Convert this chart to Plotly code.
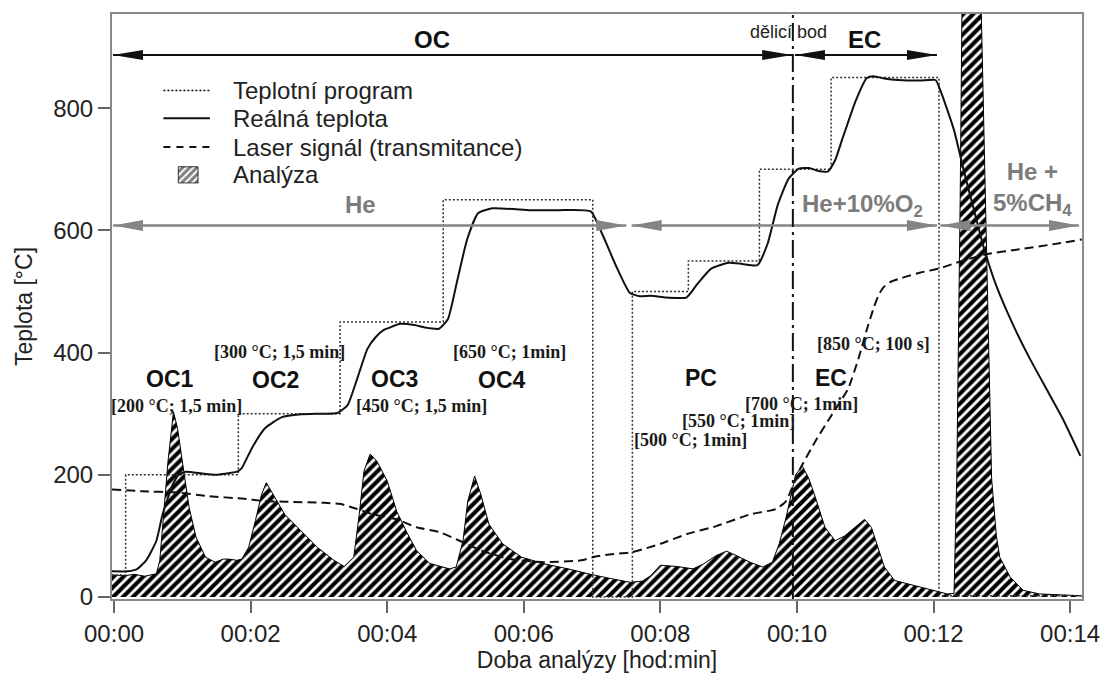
import plotly.graph_objects as go

# ---------------------------------------------------------------
# Data (time in minutes, values in °C scale)
# ---------------------------------------------------------------
x_tick_vals = [0, 2, 4, 6, 8, 10, 12, 14]
x_tick_text = ["00:00", "00:02", "00:04", "00:06", "00:08", "00:10", "00:12", "00:14"]
y_tick_vals = [0, 200, 400, 600, 800]

# Temperature program (set-point steps)
program_time = [-0.03, 0.17, 1.82, 3.31, 4.82, 7.01, 7.59, 8.41, 9.45, 10.50, 12.08, 14.17]
program_temp = [36, 200, 300, 450, 650, 0, 500, 550, 700, 850, 2, 2]

# Measured oven temperature
real_time = [-0.03, 0.20, 0.33, 0.47, 0.62, 0.71, 0.86, 0.95, 1.05, 1.29, 1.49, 1.70, 1.80,
             1.87, 2.02, 2.21, 2.45, 2.74, 3.00, 3.27, 3.42, 3.56, 3.71, 3.83, 3.95, 4.04,
             4.19, 4.40, 4.55, 4.76, 4.89, 5.02, 5.17, 5.33, 5.54, 6.10, 6.50, 6.98, 7.14,
             7.35, 7.55, 7.70, 7.86, 8.10, 8.38, 8.54, 8.74, 9.00, 9.20, 9.42, 9.57, 9.72,
             9.88, 10.03, 10.18, 10.29, 10.45, 10.56, 10.66, 10.86, 11.02, 11.12, 11.30,
             11.48, 11.80, 12.03, 12.10, 12.30, 12.44, 12.59, 12.73, 12.92, 13.17, 13.41,
             13.65, 13.89, 14.15]
real_temp = [42, 42, 45, 60, 92, 135, 184, 200, 205, 202, 200, 203, 205,
             211, 244, 276, 294, 299, 300, 301, 314, 357, 406, 425, 437, 441,
             447, 445, 441, 439, 455, 515, 585, 628, 636, 633, 633, 631, 596,
             542, 498, 492, 493, 490, 490, 512, 537, 547, 545, 543, 578, 642,
             685, 701, 702, 698, 696, 715, 748, 812, 849, 852, 848,
             846, 845, 846, 829, 764, 699, 634, 574, 509, 444, 390,
             341, 292, 231]

# Laser signal (transmittance)
laser_time = [-0.03, 0.42, 0.91, 1.39, 1.87, 2.21, 2.50, 3.08, 3.32, 3.56, 3.80, 4.14, 4.43,
              4.77, 5.06, 5.40, 5.80, 6.30, 6.84, 7.04, 7.28, 7.57, 7.80, 8.00, 8.39, 8.82,
              9.31, 9.69, 9.84, 10.03, 10.27, 10.51, 10.75, 10.90, 11.04, 11.13, 11.20,
              11.27, 11.36, 11.48, 11.62, 11.81, 12.10, 12.39, 12.78, 13.26, 13.74, 14.17]
laser_signal = [176, 173, 171, 165, 161, 157, 156, 154, 152, 144, 135, 127, 114,
                106, 92, 75, 62, 57, 60, 66, 70, 73, 80, 87, 103, 116,
                135, 144, 157, 206, 255, 298, 341, 390, 444, 475, 495,
                507, 515, 520, 525, 531, 538, 549, 561, 569, 577, 585]

# Analyser response (CO2 signal)
analysis_time = [-0.03, 0.15, 0.30, 0.45, 0.62, 0.67, 0.71, 0.79, 0.87, 0.93, 1.00, 1.10, 1.20,
                 1.34, 1.48, 1.60, 1.68, 1.80, 1.87, 1.97, 2.07, 2.16, 2.23, 2.33, 2.50, 2.74,
                 2.98, 3.22, 3.37, 3.51, 3.59, 3.66, 3.75, 3.85, 4.00, 4.14, 4.29, 4.43, 4.62,
                 4.91, 5.01, 5.11, 5.18, 5.28, 5.37, 5.49, 5.69, 5.97, 6.31, 6.65, 6.94, 7.28,
                 7.56, 7.74, 7.86, 8.00, 8.24, 8.48, 8.63, 8.82, 8.97, 9.11, 9.31, 9.50, 9.64,
                 9.74, 9.84, 9.98, 10.08, 10.17, 10.27, 10.41, 10.56, 10.70, 10.90, 10.99,
                 11.09, 11.19, 11.28, 11.43, 11.72, 12.00, 12.20, 12.30, 12.34, 12.39, 12.50,
                 12.70, 12.85, 12.92, 12.97, 13.12, 13.31, 13.55, 14.17]
analysis_signal = [36, 35, 37, 34, 38, 60, 114, 222, 303, 276, 222, 146, 98,
                   65, 57, 62, 62, 60, 62, 81, 125, 168, 187, 168, 135, 108,
                   81, 60, 50, 65, 135, 206, 234, 222, 190, 140, 105, 76, 55,
                   46, 49, 92, 157, 198, 168, 119, 87, 65, 54, 46, 38, 30,
                   24, 26, 35, 52, 50, 46, 54, 68, 75, 68, 57, 49, 57,
                   87, 130, 200, 214, 195, 163, 114, 92, 100, 119, 127,
                   114, 81, 49, 27, 19, 11, 5, 6, 195, 650, 1950,
                   954, 195, 100, 65, 33, 11, 5, 2]

# Phase arrows: (start, end) in minutes
phase_black = [(-0.015, 9.93), (9.97, 12.05)]          # OC, EC
phase_gray = [(-0.015, 7.50), (7.58, 12.05), (12.10, 14.13)]  # He, He+O2, He+CH4
split_point = 9.94
ARROW_Y_TOP = 887
ARROW_Y_GAS = 608

# ---------------------------------------------------------------
# Layout constants
# ---------------------------------------------------------------
W, H = 1112, 681
ML, MR, MT, MB = 112, 19, 13, 79
X_RANGE = [-0.03, 14.174]
Y_RANGE = [-3.3, 954]
SANS = "Liberation Sans"
SERIF = "Liberation Serif"
TXT = "#222222"
GRAY = "#858585"

plot_w = W - ML - MR
plot_h = H - MT - MB


def px_x(px):
    return (px - ML) / plot_w


def px_y(py):
    return (H - MB - py) / plot_h


hatch = dict(shape="/", fgcolor="black", bgcolor="white", size=7, solidity=0.58, fgopacity=1)

fig = go.Figure()

fig.add_trace(go.Scatter(
    x=analysis_time, y=analysis_signal, mode="lines", fill="tozeroy",
    fillpattern=hatch, line=dict(color="black", width=1), showlegend=False))

fig.add_trace(go.Scatter(
    x=program_time, y=program_temp, mode="lines", line_shape="hv",
    line=dict(color="#333333", width=1.5, dash="2px,2px"), showlegend=False))

fig.add_trace(go.Scatter(
    x=real_time, y=real_temp, mode="lines", line_shape="spline",
    line=dict(color="#111111", width=2, smoothing=0.5), showlegend=False))

fig.add_trace(go.Scatter(
    x=laser_time, y=laser_signal, mode="lines", line_shape="spline",
    line=dict(color="#111111", width=2, dash="9px,5px", smoothing=0.5), showlegend=False))

# hatched legend swatch drawn in its own small inset axes
fig.add_trace(go.Scatter(
    x=[0, 1, 1, 0, 0], y=[0, 0, 1, 1, 0], mode="lines", fill="toself",
    fillpattern=dict(shape="/", fgcolor="black", bgcolor="white", size=5, solidity=0.6),
    line=dict(color="black", width=0.8), xaxis="x2", yaxis="y2", showlegend=False,
    hoverinfo="skip"))

shapes = []
HEAD_LEN, HEAD_HALF = 30, 5


def arrow(x0, x1, y, color, width, half):
    shapes.append(dict(type="line", xref="x", yref="y", x0=x0, x1=x1, y0=y, y1=y,
                       line=dict(color=color, width=width)))
    for tip, sign in ((x0, 1), (x1, -1)):
        shapes.append(dict(
            type="path", xref="x", yref="y", xsizemode="pixel", ysizemode="pixel",
            xanchor=tip, yanchor=y,
            path=f"M0,0 L{sign * HEAD_LEN},{half} L{sign * HEAD_LEN},{-half} Z",
            fillcolor=color, line=dict(width=0)))


for a, b in phase_black:
    arrow(a, b, ARROW_Y_TOP, "#111111", 2, HEAD_HALF)
for a, b in phase_gray:
    arrow(a, b, ARROW_Y_GAS, GRAY, 2.5, HEAD_HALF + 0.5)

# split point between OC and EC
shapes.append(dict(type="line", xref="x", yref="paper", x0=split_point, x1=split_point,
                   y0=0, y1=1, line=dict(color="#111111", width=2, dash="18px,5px,3px,5px")))

# legend line samples
legend_rows = [90, 118, 147, 175]
legend_labels = ["Teplotní program", "Reálná teplota", "Laser signál (transmitance)", "Analýza"]
legend_dash = ["2px,2px", "solid", "7px,6px"]
legend_width = [1.5, 2, 2]
for row, dsh, lw in zip(legend_rows[:3], legend_dash, legend_width):
    shapes.append(dict(type="line", xref="paper", yref="paper", x0=px_x(164), x1=px_x(211),
                       y0=px_y(row), y1=px_y(row), line=dict(color="#111111", width=lw, dash=dsh)))

annotations = []
for row, lab in zip(legend_rows, legend_labels):
    annotations.append(dict(xref="paper", yref="paper", x=px_x(232), y=px_y(row),
                            xanchor="left", yanchor="middle", showarrow=False, text=lab,
                            font=dict(family=SANS, size=24, color=TXT)))


def label(t, v, text, size=24, bold=True, color="#111111", family=SANS):
    annotations.append(dict(xref="x", yref="y", x=t, y=v, text=f"<b>{text}</b>" if bold else text,
                            showarrow=False, xanchor="center", yanchor="middle",
                            font=dict(family=family, size=size, color=color)))


# phase names
label(4.65, 913, "OC")
label(10.99, 913, "EC")
label(9.87, 924, "dělicí bod", size=18, bold=False, color=TXT)
label(3.61, 642, "He", color="#7c7c7c")
label(10.96, 641, "He+10%O<sub>2</sub>", color="#7c7c7c")
label(13.45, 668, "He +<br>5%CH<sub>4</sub>", color="#7c7c7c")

# peak names
for t, v, txt in [(0.825, 357, "OC1"), (2.37, 355, "OC2"), (4.11, 357, "OC3"),
                  (5.68, 355, "OC4"), (8.60, 358, "PC"), (10.50, 358, "EC")]:
    label(t, v, txt, size=23)

# program step descriptions
for t, v, txt in [(0.91, 312, "[200 °C; 1,5 min]"), (2.43, 401, "[300 °C; 1,5 min]"),
                  (4.50, 312, "[450 °C; 1,5 min]"), (5.79, 401, "[650 °C; 1min]"),
                  (8.44, 257, "[500 °C; 1min]"), (9.14, 288, "[550 °C; 1min]"),
                  (10.06, 315, "[700 °C; 1min]"), (11.12, 414, "[850 °C; 100 s]")]:
    label(t, v, txt, size=18, family=SERIF, color="#1a1a1a")

axis_common = dict(showline=True, mirror=True, linecolor="#8a8a8a", linewidth=2,
                   ticks="outside", tickcolor="#666666", tickwidth=1.5, ticklen=12,
                   showgrid=False, zeroline=False,
                   tickfont=dict(family=SANS, size=24, color=TXT))

fig.update_layout(
    width=W, height=H,
    margin=dict(l=ML, r=MR, t=MT, b=MB),
    paper_bgcolor="white", plot_bgcolor="white",
    showlegend=False,
    xaxis=dict(range=X_RANGE, tickvals=x_tick_vals, ticktext=x_tick_text,
               title=dict(text="Doba analýzy [hod:min]", standoff=6,
                          font=dict(family=SANS, size=23, color=TXT)),
               **axis_common),
    yaxis=dict(range=Y_RANGE, tickvals=y_tick_vals,
               title=dict(text="Teplota [°C]", standoff=14,
                          font=dict(family=SANS, size=23, color=TXT)),
               **axis_common),
    xaxis2=dict(domain=[px_x(178), px_x(200)], range=[-0.05, 1.05], visible=False,
                anchor="y2", fixedrange=True),
    yaxis2=dict(domain=[px_y(184), px_y(166)], range=[-0.05, 1.05], visible=False,
                anchor="x2", fixedrange=True),
    shapes=shapes,
    annotations=annotations,
)

fig.write_html("out.html")
